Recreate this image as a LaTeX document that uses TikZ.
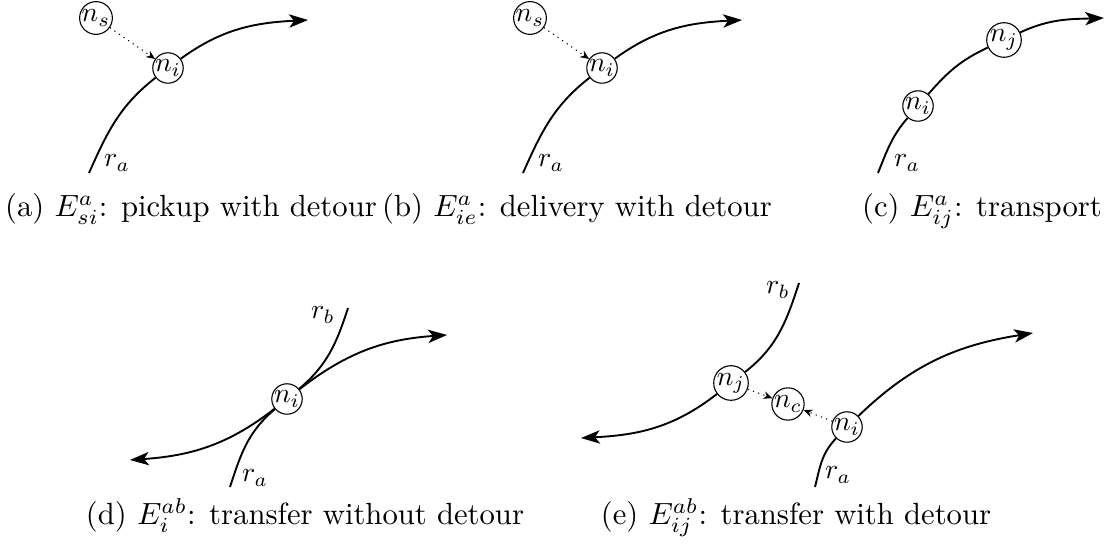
\documentclass[tikz,border=0pt]{standalone}
\usepackage{graphicx}
\usetikzlibrary{arrows.meta}
\newcommand{\ndlab}[1]{\scalebox{1.25}{$#1$}}
\newcommand{\captxt}[1]{\scalebox{1.38}{#1}}
\begin{document}
\begin{tikzpicture}[x=0.45pt,y=0.45pt,
  stopnode/.style={draw, circle, fill=white, inner sep=0pt, line width=0.5pt},
  route/.style={line width=0.85pt},
  routearrow/.style={route, -{Stealth[length=8.5pt,width=6pt,inset=2.2pt]}},
  detour/.style={dotted, line width=0.5pt, -{Stealth[length=4pt,width=3.4pt]}},
  lab/.style={inner sep=0pt},
  captext/.style={inner sep=0pt, anchor=base}]
\useasboundingbox (0,0) rectangle (1106,546);
% (a)
\node[stopnode] (a-ni) at (168,478) {\ndlab{n_i}};
\node[stopnode] (a-ns) at (96,528) {\ndlab{n_s}};
\coordinate (a-s) at (89,373);
\coordinate (a-e) at (308,526);
\draw[route] (a-s) to[out=66,in=218] (a-ni);
\draw[routearrow] (a-ni) to[out=36,in=183] (a-e);
\draw[detour] (a-ns) -- (a-ni);
\node[lab] (a-ra) at (117,383) {\ndlab{r_a}};
\node[captext] (a-cap) at (191,329) {\captxt{(a) $E^{a}_{si}$: pickup with detour}};
% (b)
\node[stopnode] (b-ni) at (602,478) {\ndlab{n_i}};
\node[stopnode] (b-ns) at (530,528) {\ndlab{n_s}};
\coordinate (b-s) at (523,373);
\coordinate (b-e) at (742,526);
\draw[route] (b-s) to[out=66,in=218] (b-ni);
\draw[routearrow] (b-ni) to[out=36,in=183] (b-e);
\draw[detour] (b-ns) -- (b-ni);
\node[lab] (b-ra) at (551,383) {\ndlab{r_a}};
\node[captext] (b-cap) at (577,329) {\captxt{(b) $E^{a}_{ie}$: delivery with detour}};
% (c)
\node[stopnode] (c-ni) at (918,440) {\ndlab{n_i}};
\node[stopnode] (c-nj) at (1004,506) {\ndlab{n_j}};
\coordinate (c-s) at (878,373);
\coordinate (c-e) at (1104,528);
\draw[route] (c-s) to[out=68,in=229] (c-ni);
\draw[route] (c-ni) to[out=49,in=205] (c-nj);
\draw[routearrow] (c-nj) to[out=25,in=182] (c-e);
\node[lab] (c-ra) at (907,383) {\ndlab{r_a}};
\node[captext] (c-cap) at (982,329) {\captxt{(c) $E^{a}_{ij}$: transport}};
% (d)
\node[stopnode] (d-ni) at (287,147) {\ndlab{n_i}};
\coordinate (d-as) at (230,59);
\coordinate (d-ae) at (447,211);
\coordinate (d-bs) at (348,238);
\coordinate (d-be) at (130,86);
\draw[route] (d-as) to[out=72,in=220] (d-ni);
\draw[routearrow] (d-ni) to[out=38,in=184] (d-ae);
\draw[route] (d-bs) to[out=252,in=40] (d-ni);
\draw[routearrow] (d-ni) to[out=218,in=4] (d-be);
\node[lab] (d-rb) at (323,231) {\ndlab{r_b}};
\node[lab] (d-ra) at (255,68) {\ndlab{r_a}};
\node[captext] (d-cap) at (305,21) {\captxt{(d) $E^{ab}_{i}$: transfer without detour}};
% (e)
\node[stopnode] (e-nj) at (731,163) {\ndlab{n_j}};
\node[stopnode] (e-nc) at (788,142) {\ndlab{n_c}};
\node[stopnode] (e-ni) at (847,119) {\ndlab{n_i}};
\coordinate (e-as) at (815,59);
\coordinate (e-ae) at (1033,213);
\coordinate (e-bs) at (799,263);
\coordinate (e-be) at (581,108);
\draw[route] (e-as) to[out=76,in=226] (e-ni);
\draw[routearrow] (e-ni) to[out=44,in=189] (e-ae);
\draw[route] (e-bs) to[out=252,in=38] (e-nj);
\draw[routearrow] (e-nj) to[out=218,in=3] (e-be);
\draw[detour] (e-nj) -- (e-nc);
\draw[detour] (e-ni) -- (e-nc);
\node[lab] (e-rb) at (778,256) {\ndlab{r_b}};
\node[lab] (e-ra) at (838,71) {\ndlab{r_a}};
\node[captext] (e-cap) at (796,21) {\captxt{(e) $E^{ab}_{ij}$: transfer with detour}};
\end{tikzpicture}
\end{document}
